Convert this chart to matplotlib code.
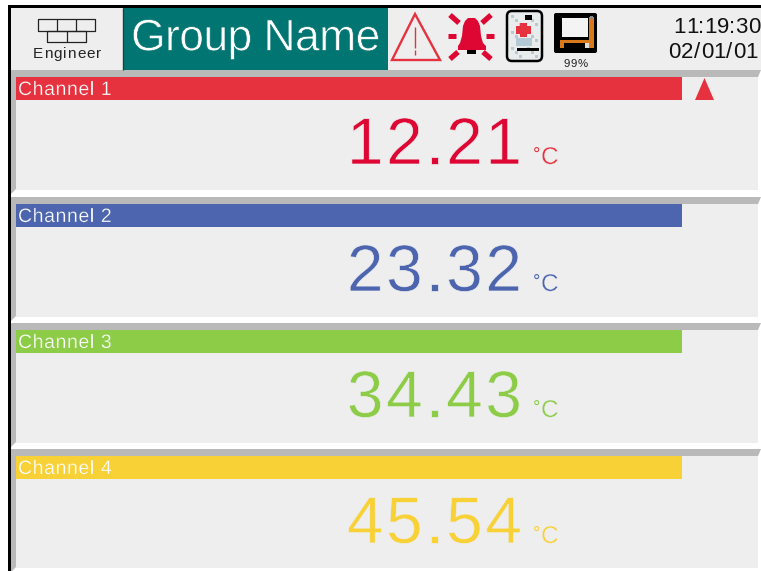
import matplotlib
matplotlib.use('Agg')
import matplotlib.pyplot as plt
import matplotlib.patheffects as pe
from matplotlib.font_manager import FontProperties, findfont, get_font
from matplotlib.ft2font import LoadFlags
from matplotlib.patches import Rectangle, Polygon, FancyBboxPatch

plt.rcParams['font.family'] = ['Liberation Sans', 'DejaVu Sans']

# channel data
channels = ['Channel 1', 'Channel 2', 'Channel 3', 'Channel 4']
readings = ['12.21', '23.32', '34.43', '45.54']
units = ['°C', '°C', '°C', '°C']
bar_colors = ['#e6323e', '#4c65ae', '#8ccc47', '#f8d136']
value_colors = ['#de0733', '#4c65ae', '#8ccc47', '#f8d136']
group_name = 'Group Name'
user_name = 'Engineer'
clock_time = '11:19:30'
clock_date = '02/01/01'
disk_text = '99%'

GREY = '#b9b9b9'
PANEL = '#eeeeee'
TEAL = '#007571'
RED = '#e6323e'
BELL = '#de0733'
ORANGE = '#d87a1c'

fig = plt.figure(figsize=(7.61, 5.71), dpi=100, facecolor='white')
ax = fig.add_axes([0, 0, 1, 1])
ax.set_xlim(0, 761)
ax.set_ylim(571, 0)
ax.axis('off')

ft = get_font(findfont(FontProperties(family='Liberation Sans')))


def rect(x0, y0, x1, y1, color, z=1):
    ax.add_patch(Rectangle((x0, y0), x1 - x0, y1 - y0, fc=color, ec='none', zorder=z))


def line(xs, ys, color='black', lw=1.0, z=3):
    ax.plot(xs, ys, color=color, lw=lw, solid_capstyle='butt', zorder=z)


def spaced(x, y, s, size, color, gap=0.0, thin=None, right=False, z=5):
    # the screen font is letter spaced and lighter, so place each character on its own
    ft.set_size(size, 100)
    adv = []
    for ch in s:
        g = ft.load_char(ord(ch), flags=LoadFlags.NO_HINTING)
        adv.append(g.linearHoriAdvance / 65536 + gap)
    if right:
        x = x - sum(adv) + gap
    for ch, a in zip(s, adv):
        t = ax.text(x, y, ch, color=color, fontsize=size, ha='left', va='baseline', zorder=z)
        if thin:
            t.set_path_effects([pe.Stroke(linewidth=thin[0], foreground=thin[1])])
        x += a


# frame and header
rect(8, 5, 761, 8, 'black', 4)
rect(8, 5, 11, 571, 'black', 4)
rect(11, 8, 761, 70, PANEL)
rect(123, 8, 388, 70, TEAL)
line([123, 123], [8, 70], '#204040', 1.0)

spaced(131, 50.5, group_name, 32, 'white', gap=-0.6, thin=(0.5, TEAL))
spaced(33, 58, user_name, 11, '#222222', gap=1.0)
spaced(760, 33, clock_time, 16, '#111111', right=True)
spaced(758, 58, clock_date, 16, '#111111', gap=0.4, right=True)

# user icon (bricks)
brick = '#222222'
for xs, ys in [([38, 95, 95, 38, 38], [19, 19, 31, 31, 19]),
               ([47, 86, 86, 47, 47], [31, 31, 42, 42, 31]),
               ([57, 57], [19, 31]), ([76, 76], [19, 31]), ([67, 67], [31, 42])]:
    line(xs, ys, brick, 0.9)

# warning triangle
ax.add_patch(Polygon([(415, 14), (392, 60), (440, 60)], closed=True, fc='none', ec=RED, lw=1.7, zorder=3))
line([415, 415], [27, 48], RED, 1.0)
line([415, 415], [50, 55], RED, 1.0)

# bell with rays
ax.add_patch(Polygon([(468, 18), (475, 18), (478, 21), (480, 26), (481, 36), (483, 43), (486, 46), (486, 50),
                      (458, 50), (458, 46), (460, 43), (462, 36), (463, 26), (465, 21)],
                     closed=True, fc=BELL, ec='none', zorder=3))
rect(467, 50, 476, 54, 'black', 3)
for (x0, y0, x1, y1) in [(450, 15, 459, 23), (491, 15, 482, 23), (450, 59, 458, 52), (491, 59, 483, 52)]:
    line([x0, x1], [y0, y1], BELL, 3.8)
line([448, 456], [36, 36], BELL, 3.6)
line([486, 494], [36, 36], BELL, 3.6)

# battery/health icon
ax.add_patch(FancyBboxPatch((507, 11), 35, 50, boxstyle='round,pad=0,rounding_size=5',
                            fc='#e8ecec', ec='black', lw=1.8, zorder=3))
for row in range(11):
    for col in range(7):
        if (row * 3 + col * 5) % 4 == 0:
            rect(511 + col * 4, 15 + row * 4, 514 + col * 4, 18 + row * 4, '#bcc8ce', 4)
rect(516, 38, 532, 46, '#b4c9d6', 4)
rect(525, 15, 532, 20, 'black', 5)
rect(520, 23, 527, 37, RED, 5)
rect(516, 26, 531, 34, RED, 5)
rect(517, 48, 539, 51, 'black', 5)

# disk icon
ax.add_patch(FancyBboxPatch((554, 13), 43, 40, boxstyle='round,pad=0,rounding_size=2',
                            fc='black', ec='none', zorder=3))
rect(589, 17, 594, 48, ORANGE, 4)
rect(560, 40, 594, 43, ORANGE, 4)
rect(560, 40, 564, 48, ORANGE, 4)
rect(562, 18, 588, 37, '#f4f4f4', 4)
rect(585, 43, 589, 48, '#dddddd', 4)
rect(590, 16, 593, 19, '#888888', 5)
spaced(563, 67, disk_text, 8.2, '#222222', gap=1.1)

# channel panels
for i in range(len(channels)):
    top = [70, 197, 323, 449][i]
    bottom = [190, 317, 443, 568][i]
    ax.add_patch(Polygon([(11, top), (761, top), (758, top + 7), (16, top + 7), (16, bottom - 1), (11, bottom + 4)],
                         closed=True, fc=GREY, ec='none', zorder=2))
    rect(16, top + 7, 758, bottom, PANEL)
    rect(16, top + 7, 682, top + 30, bar_colors[i], 3)
    spaced(18, top + 25, channels[i], 14, 'white', gap=0.6, thin=(0.2, bar_colors[i]))
    spaced(522, top + 94, readings[i], 47.5, value_colors[i], gap=2.5, thin=(0.5, PANEL), right=True)
    # degree sign sits small and high, apart from the C
    spaced(533, top + 90, units[i][0], 13, bar_colors[i])
    spaced(541, top + 94, units[i][1], 17.5, bar_colors[i], thin=(0.3, PANEL))

# high alarm marker on channel 1
ax.add_patch(Polygon([(704.5, 78), (695, 100), (714, 100)], closed=True, fc=RED, ec='none', zorder=3))

fig.savefig('out.png', dpi=100)
